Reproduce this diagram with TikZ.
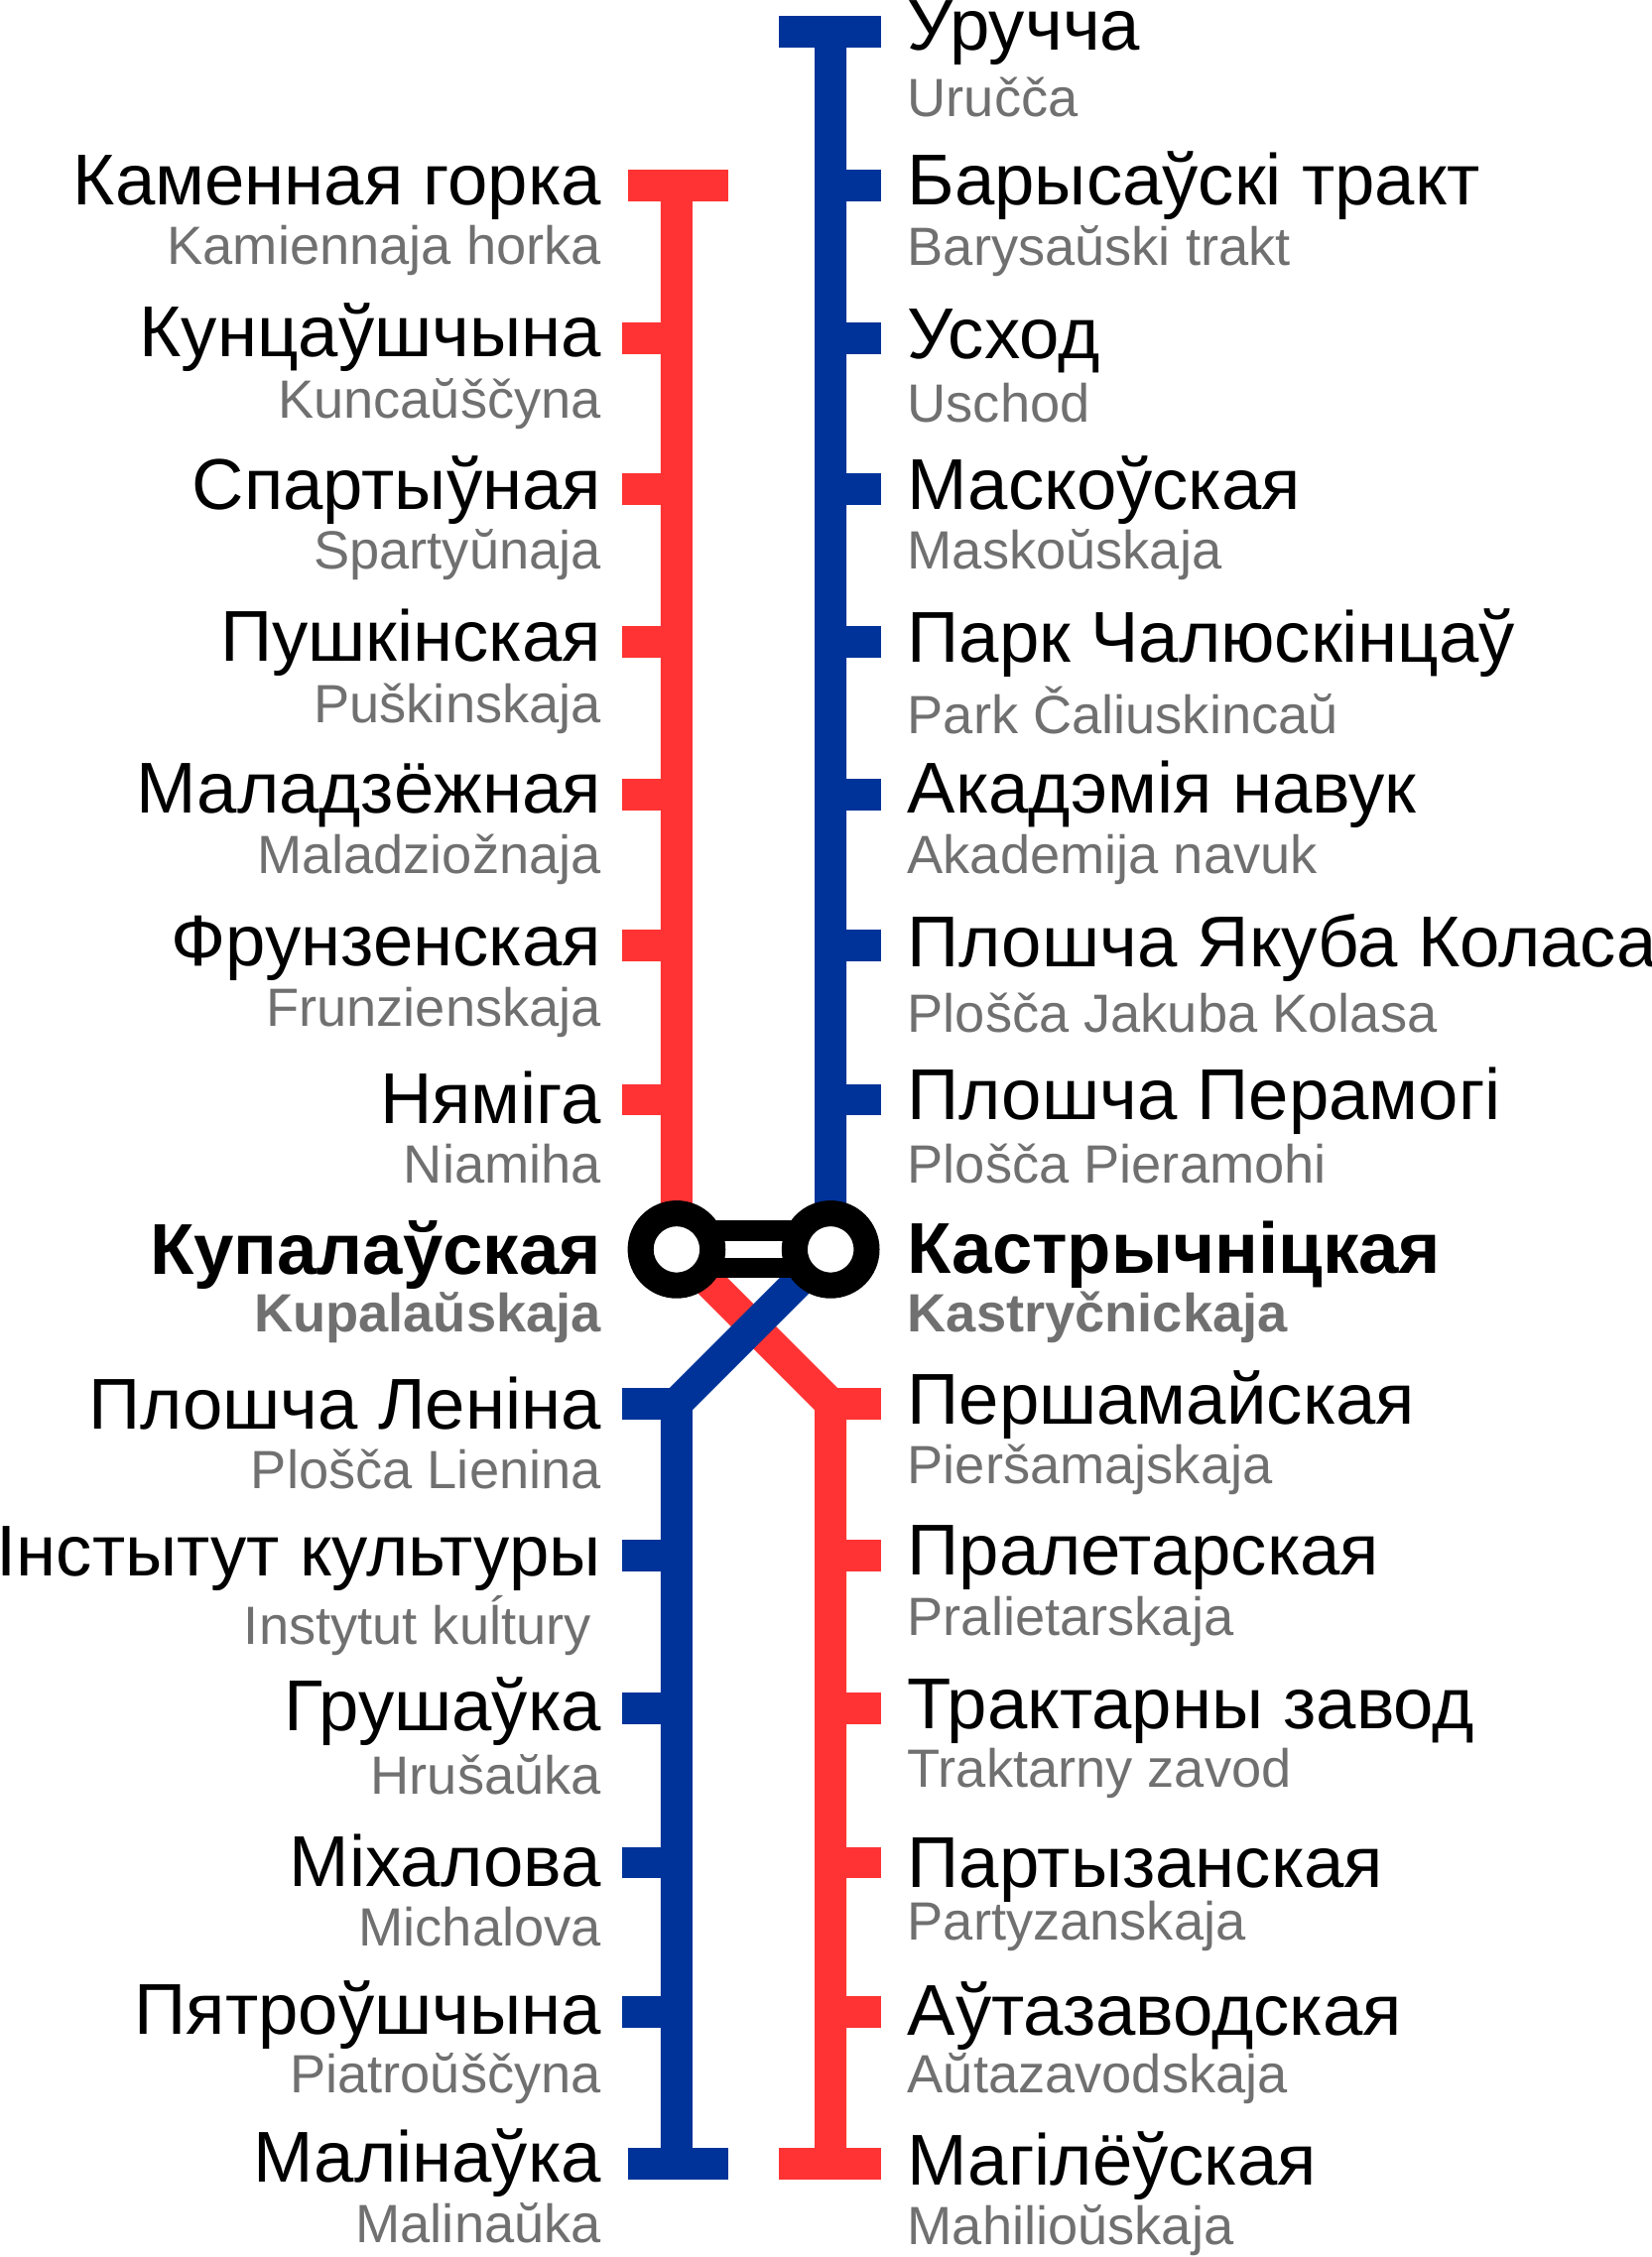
\documentclass[tikz,border=0pt]{standalone}
\usepackage{fontspec}
\setmainfont{Liberation Sans}
\definecolor{redline}{HTML}{FF3333}
\definecolor{blueline}{HTML}{003399}
\definecolor{latgray}{HTML}{707070}
\tikzstyle{cyr} = [inner sep=0pt, yshift=-2.5pt, font=\fontsize{25}{25}\selectfont]
\tikzstyle{lat} = [inner sep=0pt, yshift=-2.5pt, text=latgray, font=\fontsize{18.7}{18.7}\selectfont]
\tikzstyle{cyrbold} = [cyr, font=\fontsize{25}{25}\selectfont\bfseries]
\tikzstyle{latbold} = [lat, font=\fontsize{18.7}{18.7}\selectfont\bfseries]
\tikzstyle{red} = [line width=11pt, redline]
\tikzstyle{blue} = [line width=11pt, blueline]
\newcommand{\leftst}[4]{%
\node (#1) [#4, anchor=east] at (418,#2) {\strut #3};}
\newcommand{\rightst}[4]{%
\node (#1) [#4, anchor=west] at (630,#2) {\strut #3};}
\begin{document}
\begin{tikzpicture}[x=0.5pt, y=-0.5pt]
\useasboundingbox (0,0) rectangle (1147,1568);
% lines
\coordinate (rtop) at (470,129);
\coordinate (rmid) at (470,868);
\coordinate (rbend) at (577,975);
\coordinate (rbot) at (577,1503);
\coordinate (btop) at (577,22);
\coordinate (bmid) at (577,868);
\coordinate (bbend) at (470,975);
\coordinate (bbot) at (470,1503);
\draw [red] (rtop) -- (rmid) -- (rbend) -- (rbot);
\draw [blue] (btop) -- (bmid) -- (bbend) -- (bbot);
% caps
\draw [red] (436,129) -- (506,129);
\draw [red] (541,1503) -- (612,1503);
\draw [blue] (541,22) -- (612,22);
\draw [blue] (436,1503) -- (506,1503);
% ticks
\foreach \y in {235,340,446,552,657,764} {
\draw [red] (432,\y) -- (470,\y);
\draw [blue] (577,\y) -- (612,\y);
}
\draw [blue] (577,129) -- (612,129);
\foreach \y in {975,1081,1187,1294,1398} {
\draw [red] (577,\y) -- (612,\y);
\draw [blue] (432,\y) -- (470,\y);
}
% interchange
\draw [line width=20pt, black] (rmid) -- (bmid);
\draw [line width=6pt, white] (rmid) -- (bmid);
\draw [line width=9pt, black, fill=white] (rmid) circle (25);
\draw [line width=9pt, black, fill=white] (bmid) circle (25);
% red line stations
\leftst{kam}{127}{Каменная горка}{cyr}
\leftst{kamL}{171}{Kamiennaja horka}{lat}
\leftst{kun}{232}{Кунцаўшчына}{cyr}
\leftst{kunL}{277}{Kuncaŭščyna}{lat}
\leftst{spa}{338}{Спартыўная}{cyr}
\leftst{spaL}{382}{Spartyŭnaja}{lat}
\leftst{pus}{444}{Пушкінская}{cyr}
\leftst{pusL}{489}{Puškinskaja}{lat}
\leftst{mal}{550}{Маладзёжная}{cyr}
\leftst{malL}{594}{Maladziožnaja}{lat}
\leftst{fru}{656}{Фрунзенская}{cyr}
\leftst{fruL}{700}{Frunzienskaja}{lat}
\leftst{nia}{765}{Няміга}{cyr}
\leftst{niaL}{809}{Niamiha}{lat}
\leftst{kup}{869}{Купалаўская}{cyrbold}
\leftst{kupL}{912}{Kupalaŭskaja}{latbold}
\rightst{per}{973}{Першамайская}{cyr}
\rightst{perL}{1018}{Pieršamajskaja}{lat}
\rightst{pra}{1079}{Пралетарская}{cyr}
\rightst{praL}{1123}{Pralietarskaja}{lat}
\rightst{tra}{1186}{Трактарны завод}{cyr}
\rightst{traL}{1229}{Traktarny zavod}{lat}
\rightst{par}{1296}{Партызанская}{cyr}
\rightst{parL}{1335}{Partyzanskaja}{lat}
\rightst{aut}{1398}{Аўтазаводская}{cyr}
\rightst{autL}{1441}{Aŭtazavodskaja}{lat}
\rightst{mag}{1502}{Магілёўская}{cyr}
\rightst{magL}{1546}{Mahilioŭskaja}{lat}
% blue line stations
\rightst{uru}{20}{Уручча}{cyr}
\rightst{uruL}{68}{Uruččа}{lat}
\rightst{bar}{126}{Барысаўскі тракт}{cyr}
\rightst{barL}{171}{Barysaŭski trakt}{lat}
\rightst{usx}{234}{Усход}{cyr}
\rightst{usxL}{280}{Uschod}{lat}
\rightst{mas}{338}{Маскоўская}{cyr}
\rightst{masL}{382}{Maskoŭskaja}{lat}
\rightst{prk}{444}{Парк Чалюскінцаў}{cyr}
\rightst{prkL}{494}{Park Čaliuskincaŭ}{lat}
\rightst{aka}{549}{Акадэмія навук}{cyr}
\rightst{akaL}{594}{Akademija navuk}{lat}
\rightst{pjk}{656}{Плошча Якуба Коласа}{cyr}
\rightst{pjkL}{704}{Plošča Jakuba Kolasa}{lat}
\rightst{ppe}{762}{Плошча Перамогі}{cyr}
\rightst{ppeL}{809}{Plošča Pieramohi}{lat}
\rightst{kas}{869}{Кастрычніцкая}{cyrbold}
\rightst{kasL}{912}{Kastryčnickaja}{latbold}
\leftst{ple}{977}{Плошча Леніна}{cyr}
\leftst{pleL}{1021}{Plošča Lienina}{lat}
\node (ins) [cyr, anchor=east] at (418,1080) {\strut Інстытут культуры};
\node (insL) [lat, anchor=east] at (411,1126) {\strut Instytut kuĺtury};
\leftst{hru}{1186}{Грушаўка}{cyr}
\leftst{hruL}{1233}{Hrušaŭka}{lat}
\leftst{mix}{1295}{Міхалова}{cyr}
\leftst{mixL}{1339}{Michalova}{lat}
\leftst{pja}{1397}{Пятроўшчына}{cyr}
\leftst{pjaL}{1441}{Piatroŭščyna}{lat}
\leftst{mln}{1500}{Малінаўка}{cyr}
\leftst{mlnL}{1545}{Malinaŭka}{lat}
\end{tikzpicture}
\end{document}
